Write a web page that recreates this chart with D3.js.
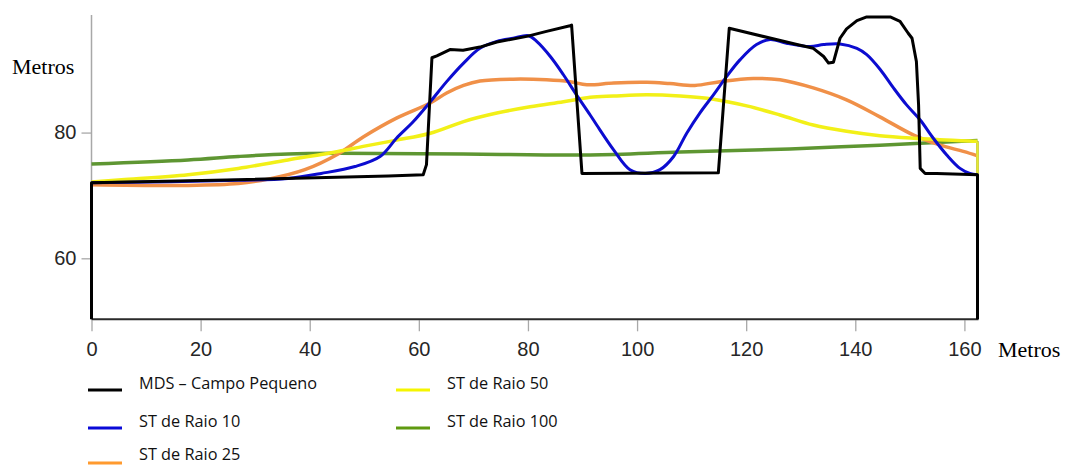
<!DOCTYPE html>
<html>
<head>
<meta charset="utf-8">
<script src="https://cdn.jsdelivr.net/npm/d3@7"></script>
<style>
  body { margin: 0; background: #fff; }
  svg { display: block; }
</style>
</head>
<body>
<svg id="canvas" width="1067" height="466"></svg>
<script>
// distancia (m) / altitude (m)
var mds = [[0, 50.3], [0, 72.0], [26.9, 72.5], [54.4, 73.1], [60.8, 73.3], [61.4, 74.9], [62.4, 91.9],
    [63.3, 92.2], [65.7, 93.2], [68.1, 93.1], [71.2, 93.6], [74.3, 94.4], [79.8, 95.3], [83.4, 96.1],
    [87.7, 97.0], [88.0, 97.1], [89.9, 73.5], [114.9, 73.6], [116.9, 96.6], [129.3, 94.0], [132.3, 93.4],
    [134.2, 92.1], [135.1, 91.05], [136.0, 91.2], [137.2, 95.0], [138.4, 96.5], [140.3, 97.8],
    [142.1, 98.4], [146.4, 98.4], [148.2, 97.7], [149.7, 95.8], [150.4, 95.0], [151.2, 91.3],
    [151.6, 84.4], [151.9, 74.3], [152.8, 73.5], [154.9, 73.5], [162.4, 73.3], [162.4, 50.3]];

var raio10 = [[0, 72.0], [26.9, 72.4], [36.0, 72.7], [42.1, 73.5], [48.3, 74.6], [52.9, 76.2], [55.9, 79.1],
    [59.0, 81.75], [62.1, 84.9], [65.1, 88.1], [68.2, 91.05], [71.2, 93.4], [74.3, 94.5], [77.3, 95.0],
    [80.1, 95.4], [81.6, 94.5], [84.1, 92.1], [86.5, 89.2], [88.9, 86.0], [91.4, 82.8], [92.6, 81.2],
    [95.7, 77.25], [98.7, 74.1], [101.5, 73.5], [104.2, 74.1], [106.7, 76.2], [109.1, 79.9], [111.5, 83.1],
    [114.0, 86.0], [116.4, 88.9], [118.9, 91.6], [121.9, 94.0], [124.4, 94.8], [127.4, 94.2], [131.7, 93.7],
    [134.2, 94.0], [137.2, 94.1], [140.3, 93.4], [142.1, 92.4], [144.6, 90.0], [147.0, 87.1], [149.4, 84.4],
    [151.9, 82.0], [154.3, 79.1], [156.8, 76.4], [159.2, 74.3], [161.0, 73.5], [162.4, 73.3]];

var raio25 = [[0, 71.7], [17.7, 71.6], [26.9, 71.9], [32.4, 72.6], [39.1, 74.1], [45.2, 76.6], [49.8, 79.3],
    [55.9, 82.3], [62.1, 84.7], [65.1, 86.3], [68.2, 87.5], [71.2, 88.2], [77.3, 88.5], [83.4, 88.4],
    [87.7, 88.1], [90.8, 87.6], [95.7, 87.9], [101.8, 88.0], [106.0, 87.8], [110.6, 87.5], [115.2, 88.1],
    [121.3, 88.6], [126.2, 88.4], [132.3, 87.1], [138.4, 85.2], [144.5, 82.5], [150.7, 79.6], [155.6, 78.0],
    [159.8, 77.0], [162.4, 76.3]];

var raio50 = [[0, 72.15], [5.5, 72.5], [17.7, 73.3], [26.9, 74.3], [36.0, 75.65], [45.2, 77.0], [49.8, 77.8],
    [55.9, 78.8], [62.1, 79.9], [68.2, 81.75], [74.3, 83.1], [80.4, 84.1], [86.5, 84.9], [91.4, 85.6],
    [95.7, 85.8], [101.8, 86.0], [107.9, 85.8], [114.0, 85.3], [120.1, 84.25], [126.2, 82.8], [132.3, 81.2],
    [138.4, 80.2], [144.5, 79.5], [150.7, 79.1], [162.4, 78.6]];

var raio100 = [[0, 75.0], [17.7, 75.65], [26.9, 76.2], [36.0, 76.6], [45.2, 76.7], [68.1, 76.6],
    [91.4, 76.45], [107.9, 76.9], [128.0, 77.4], [144.5, 78.0], [162.4, 78.75]];

var xTicks = [0, 20, 40, 60, 80, 100, 120, 140, 160];
var yTicks = [60, 80];

var legendNames = ['MDS \u2013 Campo Pequeno', 'ST de Raio 10', 'ST de Raio 25', 'ST de Raio 50', 'ST de Raio 100'];
var legendColors = ['#000000', '#0a0ad8', '#ff9a2e', '#f5f500', '#5f9a10'];

var canvas = d3.select('#canvas');

var x = d3.scaleLinear().domain([0, 162.4]).range([91.5, 977.5]);
var y = d3.scaleLinear().domain([50.3, 98.7]).range([319.3, 15]);

// eixo y
canvas.append('line')
    .attr('x1', x(0)).attr('x2', x(0))
    .attr('y1', y(98.7)).attr('y2', y(50.3))
    .attr('stroke', '#a8a8a8')
    .attr('stroke-width', 1.5);

var yAxis = canvas.append('g')
    .attr('transform', 'translate(' + x(0) + ',0)')
    .call(d3.axisLeft(y).tickValues(yTicks).tickSize(10).tickPadding(5).tickFormat(d3.format('d')));
yAxis.select('.domain').remove();

// eixo x
var xAxis = canvas.append('g')
    .attr('transform', 'translate(0,' + (y(50.3) + 1) + ')')
    .call(d3.axisBottom(x).tickValues(xTicks).tickSize(11).tickPadding(11).tickFormat(d3.format('d')));
xAxis.select('.domain').remove();

canvas.selectAll('.tick line').attr('stroke', '#a8a8a8').attr('stroke-width', 1.3);
canvas.selectAll('.tick text')
    .attr('fill', '#262626')
    .style('font-family', '"Liberation Sans", Arial, sans-serif')
    .style('font-size', '20px');

// moldura inferior e direita
canvas.append('path')
    .attr('d', 'M' + x(0) + ',' + y(50.3) + 'H' + x(162.4) + 'V' + y(78.6))
    .attr('fill', 'none')
    .attr('stroke', '#2a2a2a')
    .attr('stroke-width', 2);

var smooth = d3.line()
    .x(function(d) { return x(d[0]); })
    .y(function(d) { return y(d[1]); })
    .curve(d3.curveCatmullRom.alpha(0.5));

var straight = d3.line()
    .x(function(d) { return x(d[0]); })
    .y(function(d) { return y(d[1]); });

// fecho vertical amarelo na extremidade direita
var lastYellow = raio50[raio50.length - 1];
var lastMds = mds[mds.length - 2];

var series = [
    { v: raio100, c: '#5e9632', w: 3.5, line: smooth },
    { v: raio25, c: '#f09048', w: 3.5, line: smooth },
    { v: raio50, c: '#f2f018', w: 3.5, line: smooth },
    { v: [lastYellow, lastMds], c: '#e6ea30', w: 2.5, line: straight },
    { v: raio10, c: '#0c0cd0', w: 3, line: smooth },
    { v: mds, c: '#000000', w: 3, line: straight }
];

canvas.selectAll('path.serie')
    .data(series)
    .enter()
    .append('path')
    .attr('class', 'serie')
    .attr('d', function(d) { return d.line(d.v); })
    .attr('fill', 'none')
    .attr('stroke', function(d) { return d.c; })
    .attr('stroke-width', function(d) { return d.w; })
    .attr('stroke-linejoin', 'round');

// rotulos dos eixos
canvas.append('text')
    .attr('x', 12).attr('y', 74)
    .style('font-family', '"Liberation Serif", "Times New Roman", serif')
    .style('font-size', '22px')
    .text('Metros');

canvas.append('text')
    .attr('x', 998).attr('y', 357)
    .style('font-family', '"Liberation Serif", "Times New Roman", serif')
    .style('font-size', '22px')
    .text('Metros');

// legenda
var legendX = [88, 88, 88, 396, 396];
var legendY = [390, 428, 463, 390, 428];

var legend = canvas.selectAll('g.leg')
    .data(legendNames)
    .enter()
    .append('g')
    .attr('class', 'leg')
    .attr('transform', function(d, i) { return 'translate(' + legendX[i] + ',' + legendY[i] + ')'; });

legend.append('line')
    .attr('x1', 0).attr('x2', 34)
    .attr('y1', 0).attr('y2', 0)
    .attr('stroke', function(d, i) { return legendColors[i]; })
    .attr('stroke-width', 3);

legend.append('text')
    .attr('x', 51)
    .attr('y', function(d, i) { return i == 2 ? -3 : -1; })
    .style('font-family', '"Open Sans", sans-serif')
    .style('font-size', '16.3px')
    .attr('fill', '#111')
    .text(function(d) { return d; });
</script>
</body>
</html>
